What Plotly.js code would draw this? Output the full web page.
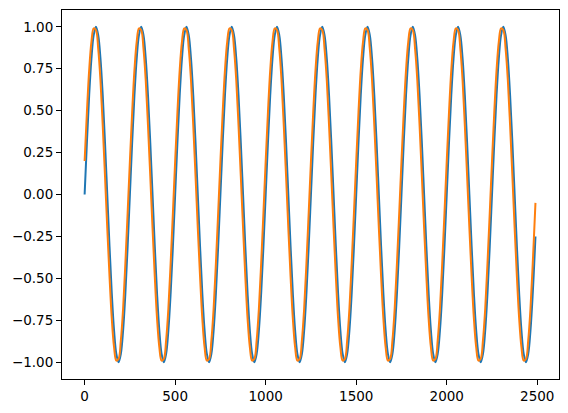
<!DOCTYPE html>
<html>
<head>
<meta charset="utf-8">
<script src="https://cdn.plot.ly/plotly-3.0.1.min.js"></script>
<style>
  html, body { margin: 0; padding: 0; background: #fff; }
  #chart { width: 568px; height: 413px; }
</style>
</head>
<body>
<div id="chart"></div>
<script>
// sample positions (every 12.5 units, last point at the end of the line)
var xValues = [
    0, 12.5, 25, 37.5, 50, 62.5, 75, 87.5, 100, 112.5, 125, 137.5, 150, 162.5, 175, 187.5, 200, 212.5, 225, 237.5,
    250, 262.5, 275, 287.5, 300, 312.5, 325, 337.5, 350, 362.5, 375, 387.5, 400, 412.5, 425, 437.5, 450, 462.5, 475, 487.5,
    500, 512.5, 525, 537.5, 550, 562.5, 575, 587.5, 600, 612.5, 625, 637.5, 650, 662.5, 675, 687.5, 700, 712.5, 725, 737.5,
    750, 762.5, 775, 787.5, 800, 812.5, 825, 837.5, 850, 862.5, 875, 887.5, 900, 912.5, 925, 937.5, 950, 962.5, 975, 987.5,
    1000, 1012.5, 1025, 1037.5, 1050, 1062.5, 1075, 1087.5, 1100, 1112.5, 1125, 1137.5, 1150, 1162.5, 1175, 1187.5, 1200, 1212.5, 1225, 1237.5,
    1250, 1262.5, 1275, 1287.5, 1300, 1312.5, 1325, 1337.5, 1350, 1362.5, 1375, 1387.5, 1400, 1412.5, 1425, 1437.5, 1450, 1462.5, 1475, 1487.5,
    1500, 1512.5, 1525, 1537.5, 1550, 1562.5, 1575, 1587.5, 1600, 1612.5, 1625, 1637.5, 1650, 1662.5, 1675, 1687.5, 1700, 1712.5, 1725, 1737.5,
    1750, 1762.5, 1775, 1787.5, 1800, 1812.5, 1825, 1837.5, 1850, 1862.5, 1875, 1887.5, 1900, 1912.5, 1925, 1937.5, 1950, 1962.5, 1975, 1987.5,
    2000, 2012.5, 2025, 2037.5, 2050, 2062.5, 2075, 2087.5, 2100, 2112.5, 2125, 2137.5, 2150, 2162.5, 2175, 2187.5, 2200, 2212.5, 2225, 2237.5,
    2250, 2262.5, 2275, 2287.5, 2300, 2312.5, 2325, 2337.5, 2350, 2362.5, 2375, 2387.5, 2400, 2412.5, 2425, 2437.5, 2450, 2462.5, 2475, 2487.5,
    2490
];

// blue line (starts at 0)
var blueValues = [
    0.00, 0.31, 0.59, 0.81, 0.95, 1.00, 0.95, 0.81, 0.59, 0.31, 0.00, -0.31, -0.59, -0.81, -0.95, -1.00, -0.95, -0.81, -0.59, -0.31,
    0.00, 0.31, 0.59, 0.81, 0.95, 1.00, 0.95, 0.81, 0.59, 0.31, 0.00, -0.31, -0.59, -0.81, -0.95, -1.00, -0.95, -0.81, -0.59, -0.31,
    0.00, 0.31, 0.59, 0.81, 0.95, 1.00, 0.95, 0.81, 0.59, 0.31, 0.00, -0.31, -0.59, -0.81, -0.95, -1.00, -0.95, -0.81, -0.59, -0.31,
    0.00, 0.31, 0.59, 0.81, 0.95, 1.00, 0.95, 0.81, 0.59, 0.31, 0.00, -0.31, -0.59, -0.81, -0.95, -1.00, -0.95, -0.81, -0.59, -0.31,
    0.00, 0.31, 0.59, 0.81, 0.95, 1.00, 0.95, 0.81, 0.59, 0.31, 0.00, -0.31, -0.59, -0.81, -0.95, -1.00, -0.95, -0.81, -0.59, -0.31,
    0.00, 0.31, 0.59, 0.81, 0.95, 1.00, 0.95, 0.81, 0.59, 0.31, 0.00, -0.31, -0.59, -0.81, -0.95, -1.00, -0.95, -0.81, -0.59, -0.31,
    0.00, 0.31, 0.59, 0.81, 0.95, 1.00, 0.95, 0.81, 0.59, 0.31, 0.00, -0.31, -0.59, -0.81, -0.95, -1.00, -0.95, -0.81, -0.59, -0.31,
    0.00, 0.31, 0.59, 0.81, 0.95, 1.00, 0.95, 0.81, 0.59, 0.31, 0.00, -0.31, -0.59, -0.81, -0.95, -1.00, -0.95, -0.81, -0.59, -0.31,
    0.00, 0.31, 0.59, 0.81, 0.95, 1.00, 0.95, 0.81, 0.59, 0.31, 0.00, -0.31, -0.59, -0.81, -0.95, -1.00, -0.95, -0.81, -0.59, -0.31,
    0.00, 0.31, 0.59, 0.81, 0.95, 1.00, 0.95, 0.81, 0.59, 0.31, 0.00, -0.31, -0.59, -0.81, -0.95, -1.00, -0.95, -0.81, -0.59, -0.31,
    -0.25
];

// orange line (slightly ahead of the blue one)
var orangeValues = [
    0.20, 0.49, 0.74, 0.91, 0.99, 0.98, 0.87, 0.68, 0.41, 0.11, -0.20, -0.49, -0.74, -0.91, -0.99, -0.98, -0.87, -0.68, -0.41, -0.11,
    0.20, 0.49, 0.74, 0.91, 0.99, 0.98, 0.87, 0.68, 0.41, 0.11, -0.20, -0.49, -0.74, -0.91, -0.99, -0.98, -0.87, -0.68, -0.41, -0.11,
    0.20, 0.49, 0.74, 0.91, 0.99, 0.98, 0.87, 0.68, 0.41, 0.11, -0.20, -0.49, -0.74, -0.91, -0.99, -0.98, -0.87, -0.68, -0.41, -0.11,
    0.20, 0.49, 0.74, 0.91, 0.99, 0.98, 0.87, 0.68, 0.41, 0.11, -0.20, -0.49, -0.74, -0.91, -0.99, -0.98, -0.87, -0.68, -0.41, -0.11,
    0.20, 0.49, 0.74, 0.91, 0.99, 0.98, 0.87, 0.68, 0.41, 0.11, -0.20, -0.49, -0.74, -0.91, -0.99, -0.98, -0.87, -0.68, -0.41, -0.11,
    0.20, 0.49, 0.74, 0.91, 0.99, 0.98, 0.87, 0.68, 0.41, 0.11, -0.20, -0.49, -0.74, -0.91, -0.99, -0.98, -0.87, -0.68, -0.41, -0.11,
    0.20, 0.49, 0.74, 0.91, 0.99, 0.98, 0.87, 0.68, 0.41, 0.11, -0.20, -0.49, -0.74, -0.91, -0.99, -0.98, -0.87, -0.68, -0.41, -0.11,
    0.20, 0.49, 0.74, 0.91, 0.99, 0.98, 0.87, 0.68, 0.41, 0.11, -0.20, -0.49, -0.74, -0.91, -0.99, -0.98, -0.87, -0.68, -0.41, -0.11,
    0.20, 0.49, 0.74, 0.91, 0.99, 0.98, 0.87, 0.68, 0.41, 0.11, -0.20, -0.49, -0.74, -0.91, -0.99, -0.98, -0.87, -0.68, -0.41, -0.11,
    0.20, 0.49, 0.74, 0.91, 0.99, 0.98, 0.87, 0.68, 0.41, 0.11, -0.20, -0.49, -0.74, -0.91, -0.99, -0.98, -0.87, -0.68, -0.41, -0.11,
    -0.05
];

var xTicks = [0, 500, 1000, 1500, 2000, 2500];
var yTicks = [-1.00, -0.75, -0.50, -0.25, 0.00, 0.25, 0.50, 0.75, 1.00];

var plotlyData = [
    {
        x: xValues,
        y: blueValues,
        type: 'scatter',
        mode: 'lines',
        line: {color: '#1f77b4', width: 2, shape: 'spline', smoothing: 1},
        hoverinfo: 'skip'
    },
    {
        x: xValues,
        y: orangeValues,
        type: 'scatter',
        mode: 'lines',
        line: {color: '#ff7f0e', width: 2, shape: 'spline', smoothing: 1},
        hoverinfo: 'skip'
    }
];

var axisStyle = {
    showline: true,
    mirror: true,
    linecolor: '#000',
    linewidth: 1,
    showgrid: false,
    zeroline: false,
    ticks: 'outside',
    ticklen: 5,
    tickwidth: 1,
    tickcolor: '#000',
    tickfont: {family: 'DejaVu Sans', size: 13.5, color: '#000'}
};

var plotlyLayout = {
    width: 568,
    height: 413,
    margin: {l: 62, r: 9, t: 10, b: 34},
    paper_bgcolor: '#fff',
    plot_bgcolor: '#fff',
    showlegend: false,
    xaxis: Object.assign({}, axisStyle, {
        range: [-125, 2620],
        tickmode: 'array',
        tickvals: xTicks
    }),
    yaxis: Object.assign({}, axisStyle, {
        range: [-1.1, 1.1],
        tickmode: 'array',
        tickvals: yTicks,
        tickformat: '.2f'
    })
};

var plotlyConfig = {
    displayModeBar: false,
    staticPlot: true
};

Plotly.newPlot('chart', plotlyData, plotlyLayout, plotlyConfig);
</script>
</body>
</html>
